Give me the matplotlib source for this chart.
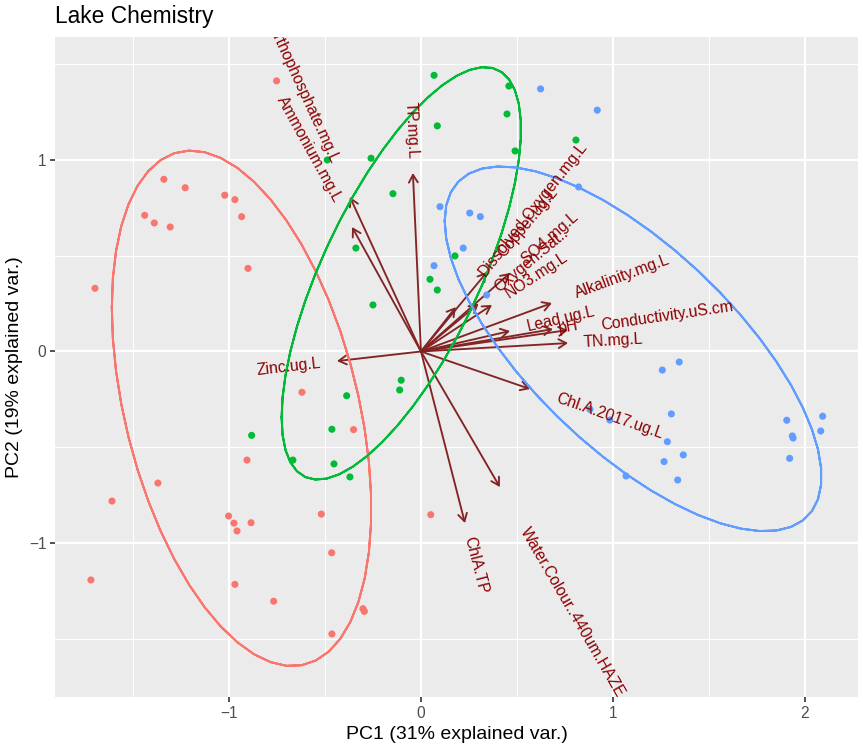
import numpy as np
import matplotlib
matplotlib.use('Agg')
import matplotlib.pyplot as plt
from matplotlib.font_manager import FontProperties

plt.rcParams['font.family'] = ['Liberation Sans', 'DejaVu Sans']

# ---------------- data ----------------
red_pc1 = [-0.752, -1.339, -1.228, -1.022, -0.969, -0.934, -1.439, -1.389, -1.306, -0.901,
           -1.698, -0.620, -0.351, -0.906, -1.002, -0.974, -0.958, -0.885, -0.519, 0.051,
           -0.465, -0.969, -0.767, -0.302, -0.295, -0.464, -1.609, -1.370, -1.719]
red_pc2 = [1.413, 0.899, 0.855, 0.816, 0.793, 0.704, 0.711, 0.671, 0.650, 0.434,
           0.330, -0.213, -0.408, -0.567, -0.859, -0.896, -0.937, -0.894, -0.849, -0.852,
           -1.051, -1.216, -1.304, -1.343, -1.357, -1.475, -0.781, -0.687, -1.193]

green_pc1 = [0.068, 0.458, 0.085, 0.448, 0.490, 0.807, -0.260, -0.146, -0.488, -0.339,
             0.177, 0.047, 0.085, -0.250, -0.103, -0.111, -0.387, -0.464, -0.882, -0.667,
             -0.453, -0.370]
green_pc2 = [1.442, 1.386, 1.178, 1.240, 1.047, 1.104, 1.009, 0.824, 1.000, 0.540,
             0.499, 0.377, 0.321, 0.243, -0.150, -0.201, -0.231, -0.406, -0.438, -0.567,
             -0.587, -0.655]

blue_pc1 = [0.623, 0.918, 0.821, 0.099, 0.254, 0.309, 0.220, 0.068, 0.342, 1.257,
            1.345, 1.304, 1.283, 1.366, 1.266, 1.337, 1.068, 0.880, 0.984, 1.905,
            1.934, 1.938, 1.920, 2.092, 2.082]
blue_pc2 = [1.371, 1.260, 0.859, 0.756, 0.723, 0.704, 0.540, 0.448, 0.295, -0.097,
            -0.055, -0.326, -0.471, -0.540, -0.575, -0.671, -0.650, -0.302, -0.358, -0.359,
            -0.441, -0.452, -0.558, -0.338, -0.415]

var_names = ["Orthophosphate.mg.L", "Ammonium.mg.L", "TP.mg.L", "Zinc.ug.L", "ChlA.TP",
             "Water.Colour..440um.HAZE", "Chl.A.2017.ug.L", "TN.mg.L", "Conductivity.uS.cm",
             "Alkalinity.mg.L", "Lead.ug.L", "pH", "Copper.ug.L", "Dissolved.Oxygen.mg.L",
             "SO4.mg.L", "Oxygen.Sat..", "NO3.mg.L"]
var_pc1 = [-0.370, -0.359, -0.042, -0.4375, 0.229, 0.411, 0.568, 0.766, 0.766,
           0.682, 0.464, 0.6875, 0.344, 0.182, 0.464, 0.300, 0.370]
var_pc2 = [0.807, 0.650, 0.932, -0.050, -0.896, -0.708, -0.196, 0.044, 0.112,
           0.253, 0.107, 0.117, 0.415, 0.232, 0.410, 0.250, 0.243]

group_colors = ['#F8766D', '#00BA38', '#619CFF']
title = "Lake Chemistry"
xlabel = "PC1 (31% explained var.)"
ylabel = "PC2 (19% explained var.)"

# ---------------- figure ----------------
W, H = 863, 747
fig = plt.figure(figsize=(W / 100, H / 100), dpi=100)
ax = fig.add_axes([55 / W, 1 - 697 / H, (858 - 55) / W, (697 - 37) / H])
ax.set_facecolor('#EBEBEB')
ax.set_xlim(-1.906, 2.276)
ax.set_ylim(-1.804, 1.642)
for s in ax.spines.values():
    s.set_visible(False)

# grid
for v in [-1.5, -0.5, 0.5, 1.5]:
    ax.axvline(v, color='white', lw=0.8, zorder=0)
    ax.axhline(v, color='white', lw=0.8, zorder=0)
for v in [-1, 0, 1, 2]:
    ax.axvline(v, color='white', lw=1.6, zorder=0.5)
for v in [-1, 0, 1]:
    ax.axhline(v, color='white', lw=1.6, zorder=0.5)

ax.set_xticks([-1, 0, 1, 2])
ax.set_yticks([-1, 0, 1])
ax.set_xticklabels(['\u22121', '0', '1', '2'])
ax.set_yticklabels(['\u22121', '0', '1'])
ax.tick_params(axis='both', colors='#333333', labelcolor='#4D4D4D', labelsize=11.2,
               length=3.5, width=1.2, pad=2.8)

arrow_col = '#832424'
# arrows
for x, y in zip(var_pc1, var_pc2):
    ax.annotate('', xy=(x, y), xytext=(0, 0),
                arrowprops=dict(arrowstyle='->,head_length=0.55,head_width=0.32',
                                mutation_scale=10, lw=1.35, color=arrow_col,
                                shrinkA=0, shrinkB=0), zorder=2)

# points
groups = [(red_pc1, red_pc2), (green_pc1, green_pc2), (blue_pc1, blue_pc2)]
for (gx, gy), c in zip(groups, group_colors):
    ax.scatter(gx, gy, s=26, color=c, edgecolors='none', zorder=3)

# ellipses
def ellipse(x, y, prob=0.68):
    x = np.asarray(x); y = np.asarray(y)
    theta = np.concatenate([np.linspace(-np.pi, np.pi, 50), np.linspace(np.pi, -np.pi, 50)])
    circle = np.column_stack([np.cos(theta), np.sin(theta)])
    sigma = np.cov(np.vstack([x, y]))
    U = np.linalg.cholesky(sigma).T
    ed = np.sqrt(-2 * np.log(1 - prob))
    return circle @ U * ed + np.array([x.mean(), y.mean()])

for (gx, gy), c in zip(groups, group_colors):
    e = ellipse(gx, gy)
    ax.plot(e[:, 0], e[:, 1], color=c, lw=1.45, zorder=4)

# variable labels
fp = FontProperties(family=['Liberation Sans'], size=11.38)
renderer = fig.canvas.get_renderer()
for name, x, y in zip(var_names, var_pc1, var_pc2):
    ang = np.degrees(np.arctan(y / x))
    wpx, hpx, dpx = renderer.get_text_width_height_descent(name, fp, ismath=False)
    wpt = wpx * 72 / fig.dpi
    a = np.radians(ang)
    if x > 0:
        off = 0.25 * wpt
        ha = 'left'
    else:
        off = -0.25 * wpt
        ha = 'right'
    t = ax.annotate(name, xy=(x, y), xytext=(off * np.cos(a), off * np.sin(a)),
                    textcoords='offset points', rotation=ang, rotation_mode='anchor',
                    ha=ha, va='center', color='#8B0000', fontproperties=fp, zorder=5,
                    annotation_clip=False)
    t.set_clip_on(True)
    t.set_clip_path(ax.patch)

fig.text(55 / W, 1 - 23.5 / H, title, fontsize=16.4, color='black', ha='left', va='baseline')
ax.set_xlabel(xlabel, fontsize=14, color='black', labelpad=4)
ax.set_ylabel(ylabel, fontsize=14, color='black', labelpad=4)

fig.savefig('out.png', dpi=100)
